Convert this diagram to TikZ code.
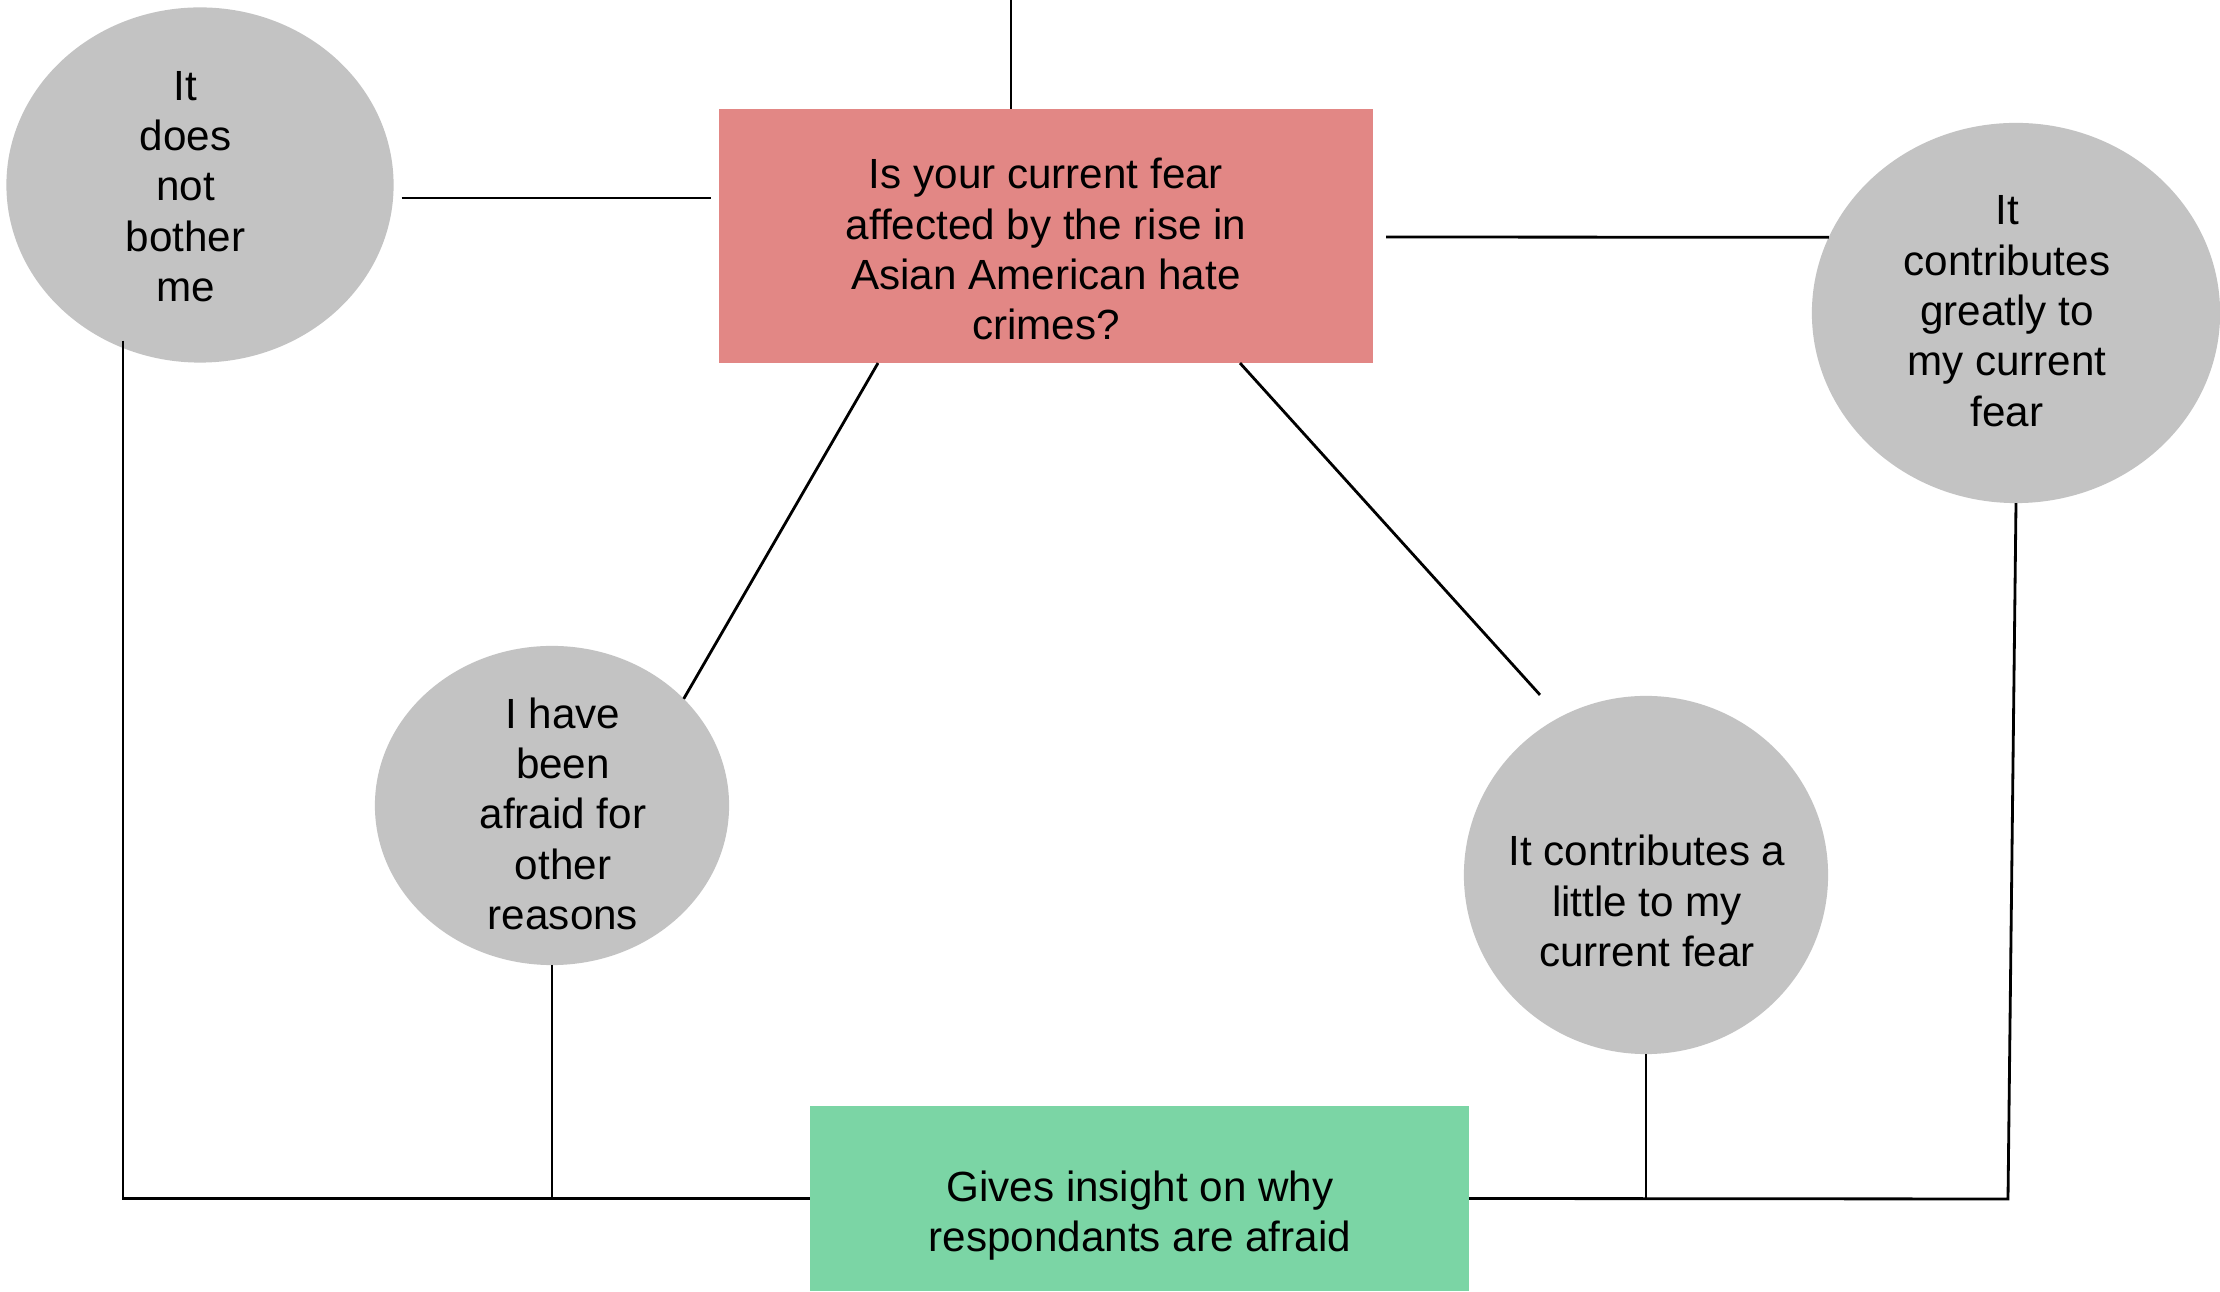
\documentclass[tikz,border=0pt]{standalone}
\usepackage{fontspec}
\setmainfont{Liberation Sans}
\usetikzlibrary{shapes.geometric,calc}
\definecolor{answergray}{RGB}{195,195,195}
\definecolor{questionred}{RGB}{226,135,133}
\definecolor{insightgreen}{RGB}{123,213,165}
\tikzset{
  answer/.style={ellipse,fill=answergray,inner sep=0pt,outer sep=0pt},
  box/.style={rectangle,inner sep=0pt,outer sep=0pt},
  txt/.style={align=center,inner sep=0pt,font=\fontsize{12}{14.3}\selectfont,
    execute at begin node=\strut,execute at end node=\strut},
  link/.style={line width=0.8pt}
}
\begin{document}
\begin{tikzpicture}[x=0.01cm,y=-0.01cm]
\useasboundingbox (0,0) rectangle (2220,1292);
\node[box,fill=questionred,minimum width=6.54cm,minimum height=2.54cm] (question) at (1046,236) {};
\node[box,fill=insightgreen,minimum width=6.59cm,minimum height=1.85cm] (insight) at (1139.5,1198.5) {};
\node[answer,minimum width=3.87cm,minimum height=3.55cm] (bother) at (200,185) {};
\node[answer,minimum width=3.54cm,minimum height=3.19cm] (afraid) at (552,805.5) {};
\node[answer,minimum width=3.64cm,minimum height=3.58cm] (little) at (1646,875) {};
\node[answer,minimum width=4.08cm,minimum height=3.80cm] (great) at (2016,313) {};
\coordinate (topend) at (1011,0);
\coordinate (rcorner) at (2008,1199);
\draw[link] (topend) -- (topend |- question.north);
\draw[link] ($(bother.east)+(8,13)$) -- ($(question.west)+(-8,-38)$);
\draw[link] ($(question.east)+(13,1)$) -- (great.158);
\draw[link] ($(question.south)+(-168,0)$) -- (afraid.39);
\draw[link] ($(question.south)+(194,0)$) -- ($(little.north)+(-106,-1)$);
\draw[link] ($(bother.south)+(-77,-22)$) |- (insight.west);
\draw[link] (afraid.south) -- (afraid.south |- insight.west);
\draw[link] (little.south) -- (little.south |- insight.east);
\draw[link] (great.south) -- (rcorner) -- (insight.east);
\node[txt] (questionT) at (1046,256.5) {Is your current fear\\affected by the rise in\\Asian American hate\\crimes?};
\node[txt] (insightT) at (1140,1219) {Gives insight on why\\respondants are afraid};
\node[txt] (botherT) at (185.5,194) {It\\does\\not\\bother\\me};
\node[txt] (afraidT) at (563,821) {I have\\been\\afraid for\\other\\reasons};
\node[txt] (littleT) at (1647,908.5) {It contributes a\\little to my\\current fear};
\node[txt] (greatT) at (2007,318.5) {It\\contributes\\greatly to\\my current\\fear};
\end{tikzpicture}
\end{document}
